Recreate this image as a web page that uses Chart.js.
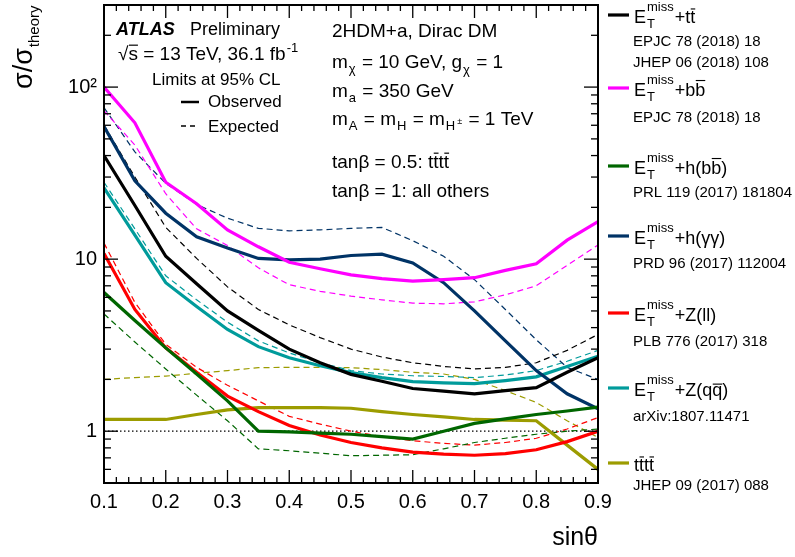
<!DOCTYPE html>
<html>
<head>
<meta charset="utf-8">
<script src="https://cdn.jsdelivr.net/npm/chart.js@4.4.0/dist/chart.umd.min.js"></script>
<style>
html, body { margin: 0; padding: 0; background: #fff; }
</style>
</head>
<body>
<canvas id="chart" width="795" height="557"></canvas>
<script>
// ------DATA--------
const sinTheta = [0.10, 0.15, 0.20, 0.25, 0.30, 0.35, 0.40, 0.45, 0.50, 0.55, 0.60, 0.65, 0.70, 0.75, 0.80, 0.85, 0.90];

const ttbarObs = [40, 20.5, 10.4, 7.2, 5.0, 3.85, 3.0, 2.5, 2.14, 1.95, 1.77, 1.71, 1.65, 1.72, 1.79, 2.2, 2.67];
const ttbarExp = [60, 30, 15.3, 10.1, 6.9, 5.1, 4.15, 3.5, 3.0, 2.7, 2.5, 2.38, 2.3, 2.35, 2.5, 2.95, 3.65];
const bbObs = [100, 62, 28, 21, 14.8, 11.8, 9.6, 8.8, 8.1, 7.7, 7.45, 7.6, 7.8, 8.6, 9.4, 12.9, 16.5];
const bbExp = [73, 46, 24, 15, 12.0, 8.9, 7.1, 6.5, 6.1, 5.8, 5.55, 5.5, 5.65, 6.2, 7.0, 9.2, 12.1];
const hbbObs = [6.4, 4.4, 3.05, 2.15, 1.5, 1.0, 0.99, 0.975, 0.96, 0.93, 0.9, 1.0, 1.11, 1.18, 1.25, 1.31, 1.38];
const hbbExp = [4.8, 3.3, 2.3, 1.62, 1.15, 0.79, 0.77, 0.745, 0.72, 0.725, 0.73, 0.79, 0.86, 0.91, 0.96, 1.0, 1.03];
const hggObs = [59, 28.5, 18.5, 13.5, 11.6, 10.1, 9.9, 10.0, 10.5, 10.7, 9.5, 7.3, 5.0, 3.35, 2.25, 1.65, 1.35];
const hggExp = [76, 42, 27.6, 20.8, 17.3, 15.1, 14.6, 14.8, 15.1, 15.3, 12.8, 10.4, 7.6, 5.1, 3.4, 2.35, 2.0];
const zllObs = [10.8, 5.1, 3.05, 2.2, 1.6, 1.3, 1.08, 0.95, 0.86, 0.8, 0.755, 0.735, 0.725, 0.74, 0.78, 0.87, 1.0];
const zllExp = [12.4, 5.6, 3.2, 2.35, 1.85, 1.5, 1.22, 1.1, 1.0, 0.93, 0.88, 0.85, 0.83, 0.86, 0.91, 1.03, 1.2];
const zqqObs = [26, 13.8, 7.3, 5.3, 3.9, 3.1, 2.67, 2.4, 2.19, 2.05, 1.94, 1.91, 1.89, 1.97, 2.07, 2.38, 2.73];
const zqqExp = [28, 15, 8, 5.8, 4.3, 3.35, 2.85, 2.5, 2.25, 2.15, 2.1, 2.08, 2.05, 2.12, 2.25, 2.55, 2.95];
const ttttObs = [1.17, 1.17, 1.17, 1.25, 1.33, 1.37, 1.37, 1.37, 1.36, 1.3, 1.25, 1.21, 1.17, 1.16, 1.15, 0.83, 0.6];
const ttttExp = [2.0, 2.05, 2.09, 2.17, 2.25, 2.34, 2.35, 2.35, 2.34, 2.28, 2.2, 2.15, 2.0, 1.72, 1.47, 1.15, 0.92];

const refLevel = 1;
const xTickLabels = ["0.1", "0.2", "0.3", "0.4", "0.5", "0.6", "0.7", "0.8", "0.9"];
const yTickLabels = { 1: "1", 10: "10", 100: "10\u00b2" };

const FONT = '"Liberation Sans", Arial, Helvetica, sans-serif';

const series = [
    { color: "#000000", obs: ttbarObs, exp: ttbarExp },
    { color: "#ff00ff", obs: bbObs, exp: bbExp },
    { color: "#006600", obs: hbbObs, exp: hbbExp },
    { color: "#003366", obs: hggObs, exp: hggExp },
    { color: "#ff0000", obs: zllObs, exp: zllExp },
    { color: "#009b9b", obs: zqqObs, exp: zqqExp },
    { color: "#9c9c00", obs: ttttObs, exp: ttttExp }
];

const pts = (vals) => vals.map((v, i) => ({ x: sinTheta[i], y: v }));

const datasets = [];
series.forEach((s) => {
    datasets.push({ data: pts(s.obs), borderColor: s.color, borderWidth: 3.2, order: 1 });
    datasets.push({ data: pts(s.exp), borderColor: s.color, borderWidth: 1.2, borderDash: [6, 4], order: 2 });
});
datasets.push({
    data: [{ x: sinTheta[0], y: refLevel }, { x: sinTheta[sinTheta.length - 1], y: refLevel }],
    borderColor: "#000", borderWidth: 1.3, borderDash: [1.5, 2.5], order: 10
});

// rich text: strings, {bar}, {sup/sub}
function rich(ctx, x, y, parts, size) {
    for (const p of parts) {
        if (typeof p === "string") {
            ctx.font = size + "px " + FONT;
            ctx.fillText(p, x, y);
            x += ctx.measureText(p).width;
        } else if (p.bar) {
            ctx.font = size + "px " + FONT;
            ctx.fillText(p.bar, x, y);
            const w = ctx.measureText(p.bar).width;
            const by = y - size * (p.h || 0.82);
            ctx.lineWidth = Math.max(1, size / 16);
            ctx.beginPath();
            ctx.moveTo(x + 0.5, by);
            ctx.lineTo(x + w + (p.ext || 0), by);
            ctx.stroke();
            x += w + (p.pad || 0);
        } else {
            const s = p.size || Math.round(size * 0.65);
            ctx.font = s + "px " + FONT;
            let w = 0;
            if (p.sup) {
                ctx.fillText(p.sup, x + 1, y + (p.up !== undefined ? p.up : -size * 0.45));
                w = Math.max(w, ctx.measureText(p.sup).width);
            }
            if (p.sub) {
                ctx.fillText(p.sub, x + 1, y + (p.dn !== undefined ? p.dn : size * 0.25));
                w = Math.max(w, ctx.measureText(p.sub).width);
            }
            x += w + 2;
        }
    }
    return x;
}

const ET = { sup: "miss", sub: "T", up: -12, dn: 5, size: 13 };
const legendItems = [
    { color: "#000000", y: 15, label: ["E", ET, "+t", { bar: "t", h: 0.78 }], refs: [["EPJC 78 (2018) 18", 46], ["JHEP 06 (2018) 108", 67]] },
    { color: "#ff00ff", y: 88, label: ["E", ET, "+b", { bar: "b", h: 0.86 }], refs: [["EPJC 78 (2018) 18", 122]] },
    { color: "#006600", y: 166, label: ["E", ET, "+h(b", { bar: "b", h: 0.86 }, ")"], refs: [["PRL 119 (2017) 181804", 197]] },
    { color: "#003366", y: 236, label: ["E", ET, "+h(\u03b3\u03b3)"], refs: [["PRD 96 (2017) 112004", 268]] },
    { color: "#ff0000", y: 313, label: ["E", ET, "+Z(ll)"], refs: [["PLB 776 (2017) 318", 346]] },
    { color: "#009b9b", y: 388, label: ["E", ET, "+Z(q", { bar: "q", h: 0.66 }, ")"], refs: [["arXiv:1807.11471", 421]] },
    { color: "#9c9c00", y: 463, label: ["t", { bar: "t", h: 0.78 }, "t", { bar: "t", h: 0.78 }], refs: [["JHEP 09 (2017) 088", 490]] }
];

const decor = {
    id: "decor",
    afterDraw(chart) {
        const { ctx, chartArea: a, scales: { x, y } } = chart;
        ctx.save();
        ctx.strokeStyle = "#000";
        ctx.fillStyle = "#000";

        // frame
        ctx.lineWidth = 2;
        ctx.strokeRect(a.left, a.top, a.right - a.left, a.bottom - a.top);

        // inward ticks
        ctx.lineWidth = 1.3;
        const seg = (x1, y1, x2, y2) => { ctx.beginPath(); ctx.moveTo(x1, y1); ctx.lineTo(x2, y2); ctx.stroke(); };
        for (let i = 0; i <= 40; i++) {
            const px = x.getPixelForValue(x.min + i * 0.02);
            const len = i % 5 === 0 ? 13 : 6;
            seg(px, a.bottom, px, a.bottom - len);
            seg(px, a.top, px, a.top + len);
        }
        [0.1, 1, 10, 100].forEach((d) => {
            for (let k = 1; k <= 9; k++) {
                const v = k * d;
                if (v < y.min * 0.999 || v > y.max * 1.001) continue;
                const py = y.getPixelForValue(v);
                const len = k === 1 ? 14 : 7;
                seg(a.left, py, a.left + len, py);
                seg(a.right, py, a.right - len, py);
            }
        });

        ctx.textAlign = "left";
        ctx.textBaseline = "alphabetic";

        // y title
        ctx.save();
        ctx.translate(32, 89);
        ctx.rotate(-Math.PI / 2);
        rich(ctx, 0, 0, ["\u03c3/\u03c3", { sub: "theory", dn: 7, size: 15 }], 27);
        ctx.restore();

        // ATLAS block
        ctx.font = "italic bold 18px " + FONT;
        ctx.fillText("ATLAS", 116, 35);
        ctx.font = "18px " + FONT;
        ctx.fillText("Preliminary", 190, 35);
        rich(ctx, 118, 60, ["\u221a", { bar: "s", h: 0.78 }, " = 13 TeV, 36.1 fb", { sup: "-1", up: -8, size: 13 }], 19);
        ctx.font = "17px " + FONT;
        ctx.fillText("Limits at 95% CL", 152, 85);

        ctx.lineWidth = 2.5;
        seg(181, 102, 199, 102);
        ctx.lineWidth = 1.5;
        ctx.setLineDash([5, 4]);
        seg(181, 126, 199, 126);
        ctx.setLineDash([]);
        ctx.font = "17px " + FONT;
        ctx.fillText("Observed", 208, 107);
        ctx.fillText("Expected", 208, 132);

        // model block
        const mx = 332;
        rich(ctx, mx, 37, ["2HDM+a, Dirac DM"], 19);
        rich(ctx, mx, 68, ["m", { sub: "\u03c7", dn: 5, size: 13 }, " = 10 GeV, g", { sub: "\u03c7", dn: 6, size: 13 }, " = 1"], 19);
        rich(ctx, mx, 97, ["m", { sub: "a", dn: 5, size: 13 }, " = 350 GeV"], 19);
        rich(ctx, mx, 125, ["m", { sub: "A", dn: 5, size: 13 }, " = m", { sub: "H", dn: 5, size: 13 }, " = m", { sub: "H", dn: 5, size: 13 }, { sup: "\u00b1", up: -1, size: 9 }, " = 1 TeV"], 19);
        rich(ctx, mx, 168, ["tan\u03b2 = 0.5: t", { bar: "t", h: 0.78 }, "t", { bar: "t", h: 0.78 }], 19);
        rich(ctx, mx, 197, ["tan\u03b2 = 1: all others"], 19);

        // legend
        legendItems.forEach((it) => {
            ctx.strokeStyle = it.color;
            ctx.lineWidth = 3.2;
            seg(608, it.y, 629, it.y);
            ctx.strokeStyle = "#000";
            ctx.fillStyle = "#000";
            rich(ctx, 634, it.y + 8, it.label, 18);
            ctx.font = "15px " + FONT;
            it.refs.forEach(([t, by]) => ctx.fillText(t, 633, by));
        });

        ctx.restore();
    }
};

const chart = new Chart(document.getElementById("chart"), {
    type: "line",
    data: { datasets: datasets },
    options: {
        responsive: false,
        animation: false,
        layout: { padding: { top: 5, right: 197, bottom: 0, left: 0 } },
        elements: { point: { radius: 0 }, line: { tension: 0 } },
        plugins: { legend: { display: false }, tooltip: { enabled: false } },
        scales: {
            x: {
                type: "linear",
                min: 0.1,
                max: 0.9,
                grid: { display: false, drawTicks: false },
                border: { display: false },
                ticks: {
                    stepSize: 0.1,
                    padding: 7,
                    color: "#000",
                    font: { family: FONT, size: 20 },
                    callback: (v) => {
                        const s = Number(v).toFixed(1);
                        return xTickLabels.includes(s) ? s : "";
                    }
                },
                title: {
                    display: true,
                    text: "sin\u03b8",
                    align: "end",
                    color: "#000",
                    font: { family: FONT, size: 25 }
                },
                afterFit: (s) => { s.height = 74; s.paddingLeft = 0; s.paddingRight = 0; }
            },
            y: {
                type: "logarithmic",
                min: 0.5,
                max: 300,
                grid: { display: false, drawTicks: false },
                border: { display: false },
                ticks: {
                    autoSkip: false,
                    padding: 7,
                    color: "#000",
                    font: { family: FONT, size: 20 },
                    callback: (v) => {
                        for (const k in yTickLabels) {
                            if (Math.abs(v - Number(k)) < 1e-6 * Number(k)) return yTickLabels[k];
                        }
                        return "";
                    }
                },
                afterFit: (s) => { s.width = 104; s.paddingTop = 0; s.paddingBottom = 0; }
            }
        }
    },
    plugins: [decor]
});
</script>
</body>
</html>
